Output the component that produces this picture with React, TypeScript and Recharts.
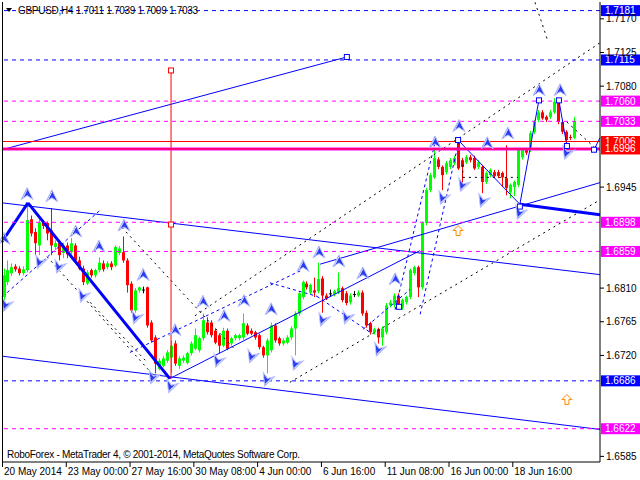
import React from "react";
import { ComposedChart, Bar, XAxis, YAxis, ReferenceLine, ReferenceDot } from "recharts";

// ---------- DATA (GBPUSD H4) ----------
const opens = [
  1.6798, 1.6818, 1.683, 1.6839, 1.6836, 1.683, 1.6834, 1.6902, 1.6885, 1.6867,
  1.6897, 1.6897, 1.6887, 1.6865, 1.6871, 1.6857, 1.6867, 1.6858, 1.6867, 1.6847,
  1.6836, 1.6816, 1.6834, 1.6827, 1.6834, 1.6843, 1.6838, 1.6843, 1.684, 1.6857,
  1.6858, 1.6847, 1.6816, 1.678, 1.6807, 1.6808, 1.6811, 1.6764, 1.6744, 1.6702,
  1.6706, 1.6713, 1.6717, 1.6736, 1.6706, 1.6713, 1.671, 1.6723, 1.6729, 1.6727,
  1.6743, 1.6764, 1.6764, 1.6753, 1.6747, 1.6733, 1.6753, 1.6736, 1.6743, 1.6743,
  1.6744, 1.676, 1.6753, 1.6751, 1.6747, 1.6731, 1.672, 1.6727, 1.676, 1.6743,
  1.6736, 1.6737, 1.6744, 1.6756, 1.6776, 1.6798, 1.6816, 1.6804, 1.6807, 1.6806,
  1.6823, 1.68, 1.6803, 1.6802, 1.6804, 1.681, 1.6803, 1.6791, 1.6802, 1.68,
  1.6804, 1.6777, 1.6763, 1.6751, 1.6755, 1.6744, 1.6751, 1.6787, 1.6787, 1.68,
  1.6784, 1.6791, 1.6798, 1.683, 1.6838, 1.6811, 1.6897, 1.6941, 1.6958, 1.6982,
  1.6972, 1.6965, 1.6972, 1.6977, 1.7008, 1.6981, 1.6978, 1.6985, 1.6984, 1.6972,
  1.6972, 1.6952, 1.6961, 1.6965, 1.6965, 1.6964, 1.6957, 1.6938, 1.6945, 1.6948,
  1.6985, 1.6995, 1.6995, 1.7019, 1.7035, 1.7045, 1.7039, 1.7039, 1.7045, 1.7062,
  1.7032, 1.7019, 1.7012, 1.7011,
];
const highs = [
  1.6836, 1.6847, 1.6843, 1.6842, 1.6839, 1.6839, 1.6924, 1.6907, 1.689, 1.6902,
  1.6901, 1.6899, 1.6917, 1.6874, 1.6874, 1.687, 1.6871, 1.6877, 1.687, 1.6852,
  1.684, 1.6834, 1.6836, 1.6836, 1.6851, 1.6847, 1.6846, 1.6846, 1.6867, 1.6866,
  1.6879, 1.685, 1.6819, 1.681, 1.6812, 1.6812, 1.6812, 1.6767, 1.6747, 1.6716,
  1.6719, 1.6727, 1.674, 1.674, 1.6719, 1.672, 1.6725, 1.6739, 1.6756, 1.6745,
  1.6776, 1.6771, 1.6767, 1.6756, 1.6749, 1.6757, 1.6756, 1.6745, 1.6749, 1.6749,
  1.6776, 1.6763, 1.6756, 1.6753, 1.6749, 1.6733, 1.6743, 1.6764, 1.6763, 1.6745,
  1.6743, 1.6747, 1.6759, 1.6779, 1.6806, 1.682, 1.6819, 1.6816, 1.6824, 1.6844,
  1.6826, 1.6803, 1.6808, 1.6808, 1.6831, 1.6812, 1.6806, 1.6803, 1.6806, 1.6807,
  1.6807, 1.678, 1.6765, 1.6757, 1.6757, 1.6759, 1.679, 1.6794, 1.6803, 1.6803,
  1.6796, 1.68, 1.6836, 1.684, 1.684, 1.6899, 1.6944, 1.6964, 1.6995, 1.6985,
  1.6974, 1.698, 1.6984, 1.6987, 1.7012, 1.6984, 1.6988, 1.6988, 1.6987, 1.6981,
  1.6974, 1.6966, 1.697, 1.6968, 1.6968, 1.6966, 1.7001, 1.695, 1.6954, 1.6997,
  1.6997, 1.6997, 1.702, 1.7035, 1.7048, 1.7048, 1.7041, 1.7048, 1.7064, 1.7064,
  1.7035, 1.7021, 1.7015, 1.7039,
];
const lows = [
  1.6794, 1.6814, 1.6826, 1.6832, 1.6827, 1.6827, 1.6831, 1.6879, 1.6854, 1.6854,
  1.6889, 1.6874, 1.6854, 1.6861, 1.6847, 1.685, 1.685, 1.6855, 1.6844, 1.6834,
  1.6814, 1.6814, 1.6824, 1.6824, 1.6831, 1.6832, 1.6835, 1.6834, 1.6838, 1.6854,
  1.6844, 1.6804, 1.6777, 1.6777, 1.6804, 1.6803, 1.6757, 1.6737, 1.6696, 1.67,
  1.6704, 1.671, 1.6697, 1.6706, 1.6702, 1.671, 1.6708, 1.672, 1.6727, 1.6724,
  1.674, 1.6748, 1.6744, 1.6735, 1.6723, 1.6731, 1.6727, 1.6733, 1.674, 1.674,
  1.6741, 1.6747, 1.6747, 1.6741, 1.6728, 1.6717, 1.6696, 1.6724, 1.6737, 1.6733,
  1.6733, 1.6735, 1.6741, 1.672, 1.6773, 1.6795, 1.6808, 1.6802, 1.6798, 1.6803,
  1.6777, 1.6794, 1.6798, 1.6799, 1.6802, 1.6791, 1.6787, 1.6788, 1.6798, 1.6798,
  1.6773, 1.6757, 1.6748, 1.6748, 1.6736, 1.6733, 1.6748, 1.6784, 1.6784, 1.6781,
  1.6781, 1.6788, 1.6795, 1.6827, 1.6798, 1.6808, 1.6894, 1.6938, 1.6956, 1.6969,
  1.6941, 1.6962, 1.6969, 1.6974, 1.6968, 1.6941, 1.6976, 1.6978, 1.6968, 1.6969,
  1.6937, 1.6949, 1.6958, 1.6957, 1.6957, 1.6945, 1.6934, 1.693, 1.6933, 1.6945,
  1.6982, 1.6988, 1.6992, 1.7016, 1.7032, 1.7035, 1.7032, 1.7036, 1.7043, 1.7029,
  1.7016, 1.6997, 1.7008, 1.7009,
];
const closes = [
  1.6827, 1.6834, 1.6838, 1.6835, 1.683, 1.6835, 1.6901, 1.6883, 1.687, 1.6898,
  1.6893, 1.6883, 1.6867, 1.687, 1.6854, 1.6867, 1.6855, 1.687, 1.6847, 1.6836,
  1.6818, 1.6831, 1.6827, 1.6834, 1.6844, 1.6835, 1.6843, 1.6838, 1.6865, 1.6863,
  1.6847, 1.6814, 1.678, 1.6807, 1.6811, 1.6808, 1.676, 1.674, 1.6709, 1.6713,
  1.6716, 1.6724, 1.6733, 1.6709, 1.6716, 1.6717, 1.6723, 1.6736, 1.6747, 1.6743,
  1.6767, 1.6751, 1.6747, 1.6737, 1.6733, 1.6753, 1.6729, 1.6743, 1.6747, 1.6747,
  1.6763, 1.6749, 1.6749, 1.6744, 1.6731, 1.672, 1.674, 1.676, 1.674, 1.6736,
  1.674, 1.6744, 1.6756, 1.6776, 1.6803, 1.6818, 1.6811, 1.6814, 1.6804, 1.6822,
  1.68, 1.6796, 1.6803, 1.6806, 1.681, 1.6794, 1.679, 1.68, 1.6802, 1.6804,
  1.6776, 1.676, 1.6751, 1.6755, 1.6744, 1.6756, 1.6787, 1.6791, 1.68, 1.6784,
  1.6794, 1.6798, 1.6834, 1.6838, 1.6811, 1.6897, 1.6941, 1.6961, 1.6984, 1.6972,
  1.6961, 1.6977, 1.6981, 1.6984, 1.697, 1.6972, 1.6985, 1.6981, 1.697, 1.6978,
  1.6952, 1.6964, 1.6968, 1.696, 1.696, 1.6958, 1.6944, 1.6948, 1.6952, 1.6995,
  1.6995, 1.6991, 1.7017, 1.7032, 1.7045, 1.7037, 1.7035, 1.7045, 1.7059, 1.7032,
  1.7019, 1.7008, 1.7011, 1.7033,
];

const timeTickIndex = [0, 16, 32, 48, 64, 80, 96, 112, 128];
const timeTickLabels = [
  "20 May 2014", "23 May 00:00", "27 May 16:00", "30 May 08:00", "4 Jun 00:00",
  "6 Jun 16:00", "11 Jun 08:00", "16 Jun 00:00", "18 Jun 16:00",
];
const priceTicks = [1.717, 1.7125, 1.708, 1.6945, 1.681, 1.6765, 1.672, 1.6585];
const levelPrices = [1.7181, 1.7115, 1.706, 1.7033, 1.7006, 1.6996, 1.6898, 1.6859, 1.6686, 1.6622];

// trend-line objects: [barIndex, price] pairs
const blueLines = [
  [[-0.5, 1.6924], [149.5, 1.6828]],
  [[-0.5, 1.6719], [149.5, 1.6621]],
  [[-0.5, 1.6995], [86.0, 1.7119]],
  [[41.6, 1.6689], [104.3, 1.686]],
  [[113.9, 1.7008], [129.4, 1.6922]],
  [[129.4, 1.6922], [134.2, 1.7062]],
  [[139.2, 1.7061], [141.2, 1.7]],
  [[148.0, 1.6995], [149.5, 1.7011]],
  [[79.3, 1.6842], [149.5, 1.6951]],
];
const thickBlueLines = [
  [[-0.5, 1.6872], [6, 1.6924]],
  [[6, 1.6924], [41.6, 1.6689]],
  [[129.4, 1.6922], [149.5, 1.6908]],
];
const blueDashedLines = [
  [[31.6, 1.6724], [74.3, 1.6833]],
  [[0.8, 1.6804], [24.3, 1.6915]],
  [[66.7, 1.6817], [78.5, 1.6799]],
  [[78.5, 1.6799], [91.8, 1.6751]],
  [[90.1, 1.6755], [101.8, 1.6808]],
  [[98.1, 1.6781], [108.1, 1.7004]],
  [[104.4, 1.6775], [114.3, 1.7012]],
];
const blackDottedLines = [
  [[10.8, 1.6852], [37.9, 1.6691]],
  [[29.6, 1.6891], [57.9, 1.6728]],
  [[21.6, 1.6791], [35.9, 1.6711]],
  [[47.9, 1.6773], [149.5, 1.7138]],
  [[71.7, 1.6684], [149.5, 1.6928]],
  [[133.2, 1.7192], [136.5, 1.7139]],
  [[115.1, 1.6958], [128.9, 1.6958]],
  [[115.1, 1.6975], [115.1, 1.6958]],
  [[141.2, 1.7032], [148.75, 1.6995]],
];
const redVertical = [[41.9, 1.7101], [41.9, 1.6689]];
const blueSquares = [
  [86.0, 1.7119], [113.9, 1.7008], [129.4, 1.6919], [134.2, 1.7061], [139.2, 1.7061],
  [141.2, 1.7], [148.0, 1.6995], [99.1, 1.6785],
];
const redSquares = [[41.9, 1.7101], [41.9, 1.6895]];
const upArrows = [
  [0, 1.6875], [5.8, 1.6935], [12, 1.6932], [18, 1.6885], [23.8, 1.6865], [30.1, 1.6893],
  [34.9, 1.6827], [42.9, 1.6753], [49.9, 1.6791], [55.2, 1.6772], [60.2, 1.6792],
  [67, 1.6781], [75, 1.6839], [79, 1.6857], [84, 1.6845], [90, 1.6829], [98.1, 1.6821],
  [108.1, 1.7004], [114.1, 1.7026], [121.2, 1.7003], [126.4, 1.7016], [134.2, 1.7074],
  [139.5, 1.7074],
];
const downArrows = [
  [0.5, 1.6788], [9, 1.6845], [13.8, 1.6839], [19.8, 1.68], [33.1, 1.6771], [37.4, 1.6691],
  [41.9, 1.6679], [53.7, 1.6713], [62.2, 1.6719], [66, 1.6688], [73.2, 1.6709],
  [80, 1.6768], [86, 1.6771], [94, 1.6728], [110.1, 1.6931], [115.1, 1.6948],
  [120.1, 1.6927], [129.4, 1.6911], [141.2, 1.6991],
];
const orangeArrows = [[113.9, 1.6887], [141.2, 1.6661]];

// ---------- STYLE ----------
const FONT = "'Liberation Sans', Arial, sans-serif";
const BLUE = "#0000ff";
const MAGENTA = "#ff00ff";
const RED = "#ff0000";
const LEVEL_STYLE = [
  { c: BLUE, dash: "4 4", w: 1 },
  { c: BLUE, dash: "4 4", w: 1 },
  { c: MAGENTA, dash: "4 4", w: 1 },
  { c: MAGENTA, dash: "4 4", w: 1 },
  { c: RED, dash: undefined, w: 1 },
  { c: RED, dash: undefined, w: 1 },
  { c: MAGENTA, dash: "4 4", w: 1 },
  { c: MAGENTA, dash: "4 4", w: 1 },
  { c: BLUE, dash: "4 4", w: 1 },
  { c: MAGENTA, dash: "4 4", w: 1 },
];

const data = opens.map((o, i) => ({
  i,
  o,
  h: highs[i],
  l: lows[i],
  c: closes[i],
  range: [lows[i], highs[i]],
}));

const Candle = (props: any) => {
  const { x, y, width, height, payload } = props;
  if (!payload || payload.o == null) return null;
  const { o, h, l, c } = payload;
  const top = Math.min(y, y + height);
  const hh = Math.abs(height);
  const k = h - l > 0 ? hh / (h - l) : 0;
  const cx = Math.round(x + width / 2);
  const yO = top + (h - o) * k;
  const yC = top + (h - c) * k;
  const color = c > o ? "#00ff00" : c < o ? RED : "#000000";
  const bt = Math.min(yO, yC);
  const bh = Math.max(1, Math.abs(yO - yC));
  return (
    <g>
      <line x1={cx + 0.5} x2={cx + 0.5} y1={top} y2={top + hh} stroke={color} strokeWidth={1} />
      <rect x={cx - 1} y={bt} width={3} height={bh} fill={color} />
    </g>
  );
};

const XTick = (props: any) => {
  const { x, payload } = props;
  const idx = timeTickIndex.indexOf(payload.value);
  const label = idx >= 0 ? timeTickLabels[idx] : "";
  return (
    <g>
      <line x1={x - 1.5} x2={x - 1.5} y1={462} y2={467} stroke="#000" />
      <text x={x} y={475} fontSize={10} fontFamily={FONT} fill="#000" textAnchor="start">
        {label}
      </text>
    </g>
  );
};

const YTick = (props: any) => {
  const { y, payload } = props;
  return (
    <g>
      <line x1={600} x2={604} y1={y} y2={y} stroke="#000" />
      <text x={606} y={y + 3.5} fontSize={10} fontFamily={FONT} fill="#000">
        {payload.value.toFixed(4)}
      </text>
    </g>
  );
};

const makeLevelLabel = (price: number, color: string) => (props: any) => {
  const vb = props.viewBox || {};
  const y = vb.y;
  if (y == null) return null;
  return (
    <g>
      <rect x={601} y={y - 5.5} width={39} height={11} fill={color} />
      <text x={605} y={y + 3.5} fontSize={10} fontFamily={FONT} fill="#fff">
        {price.toFixed(4)}
      </text>
    </g>
  );
};

const arrowPts = (cx: number, cy: number) =>
  `${cx},${cy - 7} ${cx + 6},${cy + 5} ${cx},${cy + 1} ${cx - 6},${cy + 5}`;

const UpArrow = (props: any) => {
  const { cx, cy } = props;
  if (cx == null) return null;
  return (
    <g>
      <polygon points={arrowPts(cx, cy)} fill="#2a3cf0" stroke="#b8c0ff" strokeWidth={1} />
      <line x1={cx} y1={cy - 5} x2={cx - 4} y2={cy + 3} stroke="#dfe3ff" strokeWidth={1} />
    </g>
  );
};
const DownArrow = (props: any) => {
  const { cx, cy } = props;
  if (cx == null) return null;
  return (
    <g transform={`rotate(200 ${cx} ${cy})`}>
      <polygon points={arrowPts(cx, cy)} fill="#2a3cf0" stroke="#b8c0ff" strokeWidth={1} />
      <line x1={cx} y1={cy - 5} x2={cx - 4} y2={cy + 3} stroke="#dfe3ff" strokeWidth={1} />
    </g>
  );
};
const OrangeArrow = (props: any) => {
  const { cx, cy } = props;
  if (cx == null) return null;
  return (
    <polygon
      points={`${cx},${cy - 5} ${cx + 5},${cy} ${cx + 2},${cy} ${cx + 2},${cy + 5} ${cx - 2},${cy + 5} ${cx - 2},${cy} ${cx - 5},${cy}`}
      fill="#fff"
      stroke="#ff8800"
      strokeWidth={1}
    />
  );
};

const SmallSquare = (props: any) => {
  const { cx, cy } = props;
  if (cx == null) return null;
  return <rect x={cx - 2.5} y={cy - 2.5} width={5} height={5} fill="#fff" stroke={props.color || BLUE} />;
};

const seg = (s: number[][]) => [
  { x: s[0][0], y: s[0][1] },
  { x: s[1][0], y: s[1][1] },
];

export default function App() {
  return (
    <div style={{ position: "absolute", left: 0, top: 0, width: 640, height: 480, background: "#fff" }}>
      <ComposedChart
        width={640}
        height={480}
        data={data}
        margin={{ top: 2, right: 0, bottom: 0, left: 2 }}
      >
        <XAxis
          dataKey="i"
          type="number"
          domain={[-0.5, 149.5]}
          ticks={timeTickIndex}
          interval={0}
          tick={<XTick />}
          tickLine={false}
          axisLine={{ stroke: "#000" }}
          height={18}
          allowDataOverflow
        />
        <YAxis
          orientation="right"
          type="number"
          domain={[1.65775, 1.71925]}
          ticks={priceTicks}
          interval={0}
          tick={<YTick />}
          tickLine={false}
          axisLine={{ stroke: "#000" }}
          width={40}
          allowDataOverflow
        />
        <Bar dataKey="range" barSize={3} shape={<Candle />} isAnimationActive={false} />
        {blackDottedLines.map((s, j) => (
          <ReferenceLine key={"bd" + j} segment={seg(s)} stroke="#000" strokeWidth={1} strokeDasharray="2 4" />
        ))}
        {blueDashedLines.map((s, j) => (
          <ReferenceLine key={"bdl" + j} segment={seg(s)} stroke={BLUE} strokeWidth={1} strokeDasharray="3 3" />
        ))}
        {blueLines.map((s, j) => (
          <ReferenceLine key={"bl" + j} segment={seg(s)} stroke={BLUE} strokeWidth={1} />
        ))}
        {thickBlueLines.map((s, j) => (
          <ReferenceLine key={"tb" + j} segment={seg(s)} stroke={BLUE} strokeWidth={3} />
        ))}
        <ReferenceLine segment={seg(redVertical)} stroke={RED} strokeWidth={1} />
        <ReferenceLine y={levelPrices[5]} stroke={MAGENTA} strokeWidth={3} />
        {levelPrices.map((p, j) => (
          <ReferenceLine
            key={"lv" + j}
            y={p}
            stroke={LEVEL_STYLE[j].c}
            strokeDasharray={LEVEL_STYLE[j].dash}
            strokeWidth={LEVEL_STYLE[j].w}
            label={makeLevelLabel(p, LEVEL_STYLE[j].c)}
          />
        ))}
        {upArrows.map((a, j) => (
          <ReferenceDot key={"ua" + j} x={a[0]} y={a[1]} r={6} shape={<UpArrow />} />
        ))}
        {downArrows.map((a, j) => (
          <ReferenceDot key={"da" + j} x={a[0]} y={a[1]} r={6} shape={<DownArrow />} />
        ))}
        {orangeArrows.map((a, j) => (
          <ReferenceDot key={"oa" + j} x={a[0]} y={a[1]} r={6} shape={<OrangeArrow />} />
        ))}
        {blueSquares.map((a, j) => (
          <ReferenceDot key={"bs" + j} x={a[0]} y={a[1]} r={3} shape={<SmallSquare />} />
        ))}
        {redSquares.map((a, j) => (
          <ReferenceDot key={"rs" + j} x={a[0]} y={a[1]} r={3} shape={<SmallSquare color={RED} />} />
        ))}
      </ComposedChart>
      <svg
        width={640}
        height={480}
        style={{ position: "absolute", left: 0, top: 0, pointerEvents: "none" }}
      >
        <line x1={2.5} x2={2.5} y1={2} y2={462} stroke="#000" />
        <polygon points="6,8 12,8 9,12" fill="#000" />
        <text x={18} y={14} fontSize={10} fontFamily={FONT} fill="#000" textLength={180}>
          GBPUSD,H4  1.7011 1.7039 1.7009 1.7033
        </text>
        <text x={7} y={458} fontSize={10} fontFamily={FONT} fill="#000" textLength={293}>
          RoboForex - MetaTrader 4, © 2001-2014, MetaQuotes Software Corp.
        </text>
      </svg>
    </div>
  );
}
